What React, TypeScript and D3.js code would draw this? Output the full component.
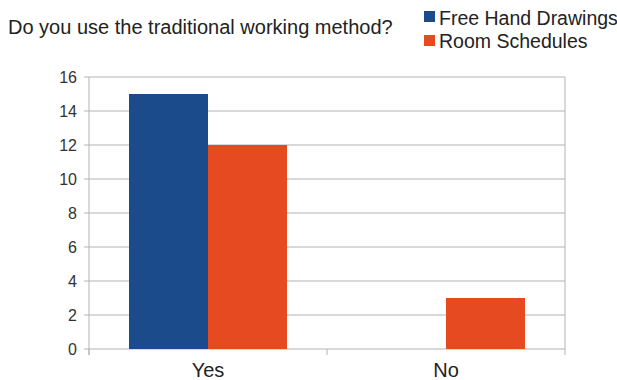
import React from "react";
import * as d3 from "d3";

const categories = ["Yes", "No"];
const seriesNames = ["Free Hand Drawings", "Room Schedules"];
const freeHand = [15, 0];
const roomSchedules = [12, 3];
const yTicks = [0, 2, 4, 6, 8, 10, 12, 14, 16];
const colors = ["#1c4b8b", "#e64a21"];

export default function App() {
  const W = 617, H = 380;
  const left = 89, right = 565, top = 77, bottom = 349;
  const x = d3.scaleBand<string>().domain(categories).range([left, right]).paddingInner(0).paddingOuter(0);
  const y = d3.scaleLinear().domain([0, 16]).range([bottom, top]);
  const bw = x.bandwidth();
  const inner = d3.scaleBand<string>().domain(seriesNames).range([0, bw * (158 / 238)]);
  const off = (bw - bw * (158 / 238)) / 2;
  const series = [freeHand, roomSchedules];
  const font = "'Liberation Sans', Arial, sans-serif";
  return (
    <svg width={W} height={H} style={{ position: "absolute", left: 0, top: 0, background: "#fff" }} fontFamily={font}>
      {yTicks.map((t) => (
        <g key={t}>
          <line x1={left - 5} x2={right} y1={y(t)} y2={y(t)} stroke="#b3b3b3" strokeWidth={1} />
          <text x={77} y={y(t)} dy="0.36em" textAnchor="end" fontSize={16} fill="#333">{t}</text>
        </g>
      ))}
      <line x1={left} x2={left} y1={top} y2={bottom + 6} stroke="#b3b3b3" />
      <line x1={right} x2={right} y1={top} y2={bottom + 6} stroke="#b3b3b3" />
      {categories.map((c) => (
        <line key={c} x1={x(c)!} x2={x(c)!} y1={bottom} y2={bottom + 6} stroke="#b3b3b3" />
      ))}
      {series.map((vals, si) =>
        vals.map((v, ci) => (
          v > 0 ? (
            <rect key={`${si}-${ci}`} x={x(categories[ci])! + off + inner(seriesNames[si])!} y={y(v)}
              width={inner.bandwidth()} height={y(0) - y(v)} fill={colors[si]} />
          ) : null
        ))
      )}
      {categories.map((c) => (
        <text key={c} x={x(c)! + bw / 2} y={377} textAnchor="middle" fontSize={20} fill="#222">{c}</text>
      ))}
      <text x={8} y={34} fontSize={20} fill="#222">Do you use the traditional working method?</text>
      {seriesNames.map((s, i) => (
        <g key={s}>
          <rect x={424} y={11 + i * 24} width={11} height={11} fill={colors[i]} />
          <text x={439} y={25 + i * 23} fontSize={19.5} fill="#222">{s}</text>
        </g>
      ))}
    </svg>
  );
}
